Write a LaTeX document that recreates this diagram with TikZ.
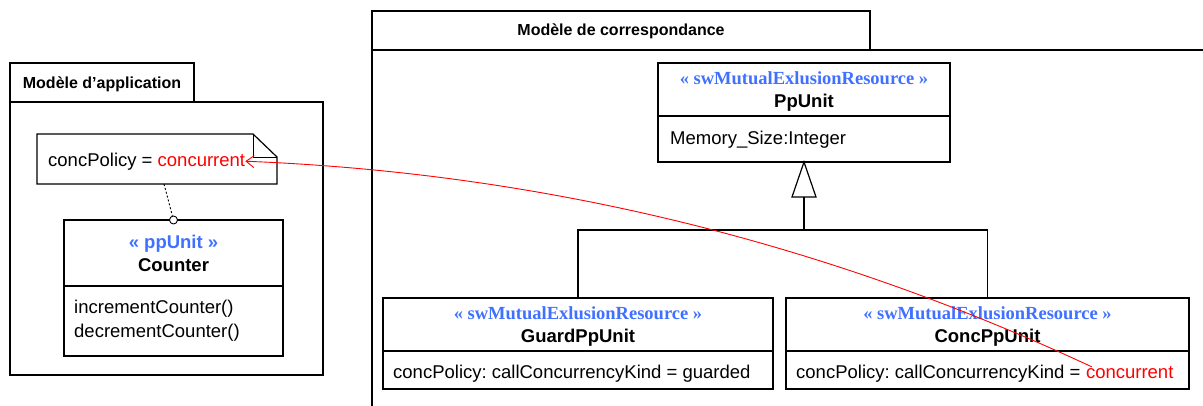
\documentclass[tikz,border=0pt]{standalone}
\usepackage{fontspec}
\setmainfont{Liberation Sans}
\newfontfamily\stereofont{Liberation Serif}
\usetikzlibrary{arrows.meta,calc}
\definecolor{stereoblue}{RGB}{64,112,255}
\definecolor{umlred}{RGB}{255,0,0}
\frenchspacing
\begin{document}
\begin{tikzpicture}[x=1pt,y=-1pt,
  umlline/.style={line width=1.2pt, draw=black},
  box/.style={umlline, inner sep=0pt, outer sep=0pt, anchor=north west},
  txt/.style={font=\fontsize{18.5}{20}\selectfont, inner sep=0pt, anchor=base west},
  ctxt/.style={font=\fontsize{18.5}{20}\selectfont\bfseries, inner sep=0pt, anchor=base},
  sansstereo/.style={ctxt, text=stereoblue},
  serifstereo/.style={font=\fontsize{18.5}{20}\selectfont\stereofont\bfseries, text=stereoblue, inner sep=0pt, anchor=base},
  pkgtitle/.style={font=\fontsize{16}{18}\selectfont\bfseries, inner sep=0pt, anchor=base},
  redline/.style={draw=umlred, line width=0.9pt}
]
\useasboundingbox (0,0) rectangle (1203,405);

% ---------- Package: Modele d'application ----------
\node[box, minimum width=184, minimum height=39] (tabA) at (10,63) {};
\node[pkgtitle] (titleA) at (102,88) {Modèle d’application};
\node[box, minimum width=313, minimum height=273] (bodyA) at (10,102) {};

% ---------- Package: Modele de correspondance ----------
\node[box, minimum width=498, minimum height=39] (tabB) at (372,11) {};
\node[pkgtitle] (titleB) at (621,35) {Modèle de correspondance};
\draw[umlline] (372,420) -- (tabB.south west) -- (1215,50);

% ---------- Note ----------
\node[inner sep=0pt, outer sep=0pt, minimum width=240, minimum height=50, anchor=north west] (notebox) at (37,134) {};
\draw[umlline, fill=white] (notebox.north west) -- ($(notebox.north east)+(-24,0)$)
  -- ($(notebox.north east)+(0,23)$) -- (notebox.south east) -- (notebox.south west) -- cycle;
\draw[line width=0.9pt] ($(notebox.north east)+(-24,0)$) |- ($(notebox.north east)+(0,23)$);
\node[txt] (notetxt) at (48,166) {concPolicy = \textcolor{umlred}{concurrent}};

% ---------- Counter ----------
\node[box, minimum width=219, minimum height=136] (counter) at (64,220) {};
\draw[umlline] (counter.west |- 0,286) -- (counter.east |- 0,286);
\node[sansstereo] (counterst) at (173.5,248) {« ppUnit »};
\node[ctxt] (countername) at (173.5,271) {Counter};
\node[txt] (inc) at (74,313) {incrementCounter()};
\node[txt] (dec) at (74,337) {decrementCounter()};
\node[circle, draw, fill=white, line width=0.9pt, minimum size=8pt, inner sep=0pt] (ball) at (counter.north) {};
\draw[line width=0.9pt, dash pattern=on 2pt off 2pt] (notebox.south -| 164,0) -- (ball);

% ---------- PpUnit ----------
\node[box, minimum width=292, minimum height=99] (ppunit) at (658,63) {};
\draw[umlline] (ppunit.west |- 0,116) -- (ppunit.east |- 0,116);
\node[serifstereo] (ppst) at (804,84) {« swMutualExlusionResource »};
\node[ctxt] (ppname) at (804,107) {PpUnit};
\node[txt] (ppattr) at (670,144) {Memory\_Size:Integer};

% ---------- GuardPpUnit ----------
\node[box, minimum width=390, minimum height=91] (guard) at (383,298) {};
\draw[umlline] (guard.west |- 0,351) -- (guard.east |- 0,351);
\node[serifstereo] (guardst) at (578,319) {« swMutualExlusionResource »};
\node[ctxt] (guardname) at (578,342) {GuardPpUnit};
\node[txt] (guardattr) at (393,378) {concPolicy: callConcurrencyKind = guarded};

% ---------- ConcPpUnit ----------
\node[box, minimum width=403, minimum height=91] (conc) at (786,298) {};
\draw[umlline] (conc.west |- 0,351) -- (conc.east |- 0,351);
\node[serifstereo] (concst) at (987.5,319) {« swMutualExlusionResource »};
\node[ctxt] (concname) at (987.5,342) {ConcPpUnit};
\node[txt] (concattr) at (796,378) {concPolicy: callConcurrencyKind =};
\node[txt, text=umlred] (concword) at ([xshift=5.1pt]concattr.base east) {concurrent};

% ---------- Generalization ----------
\draw[umlline, fill=white] (ppunit.south) -- ++(12,35) -- ++(-24,0) -- cycle;
\path (ppunit.south) ++(0,35) coordinate (tribase);
\draw[umlline] (tribase) -- (tribase |- 0,230) coordinate (joint);
\draw[umlline] (guard.north) |- (joint) -| (conc.north);

% ---------- Red trace ----------
\draw[redline, -{Straight Barb[length=8pt,width=12pt]}]
  ($(concword.north west)+(6,1)$) .. controls (822,241) and (540,173) .. (notetxt.east);
\end{tikzpicture}
\end{document}
